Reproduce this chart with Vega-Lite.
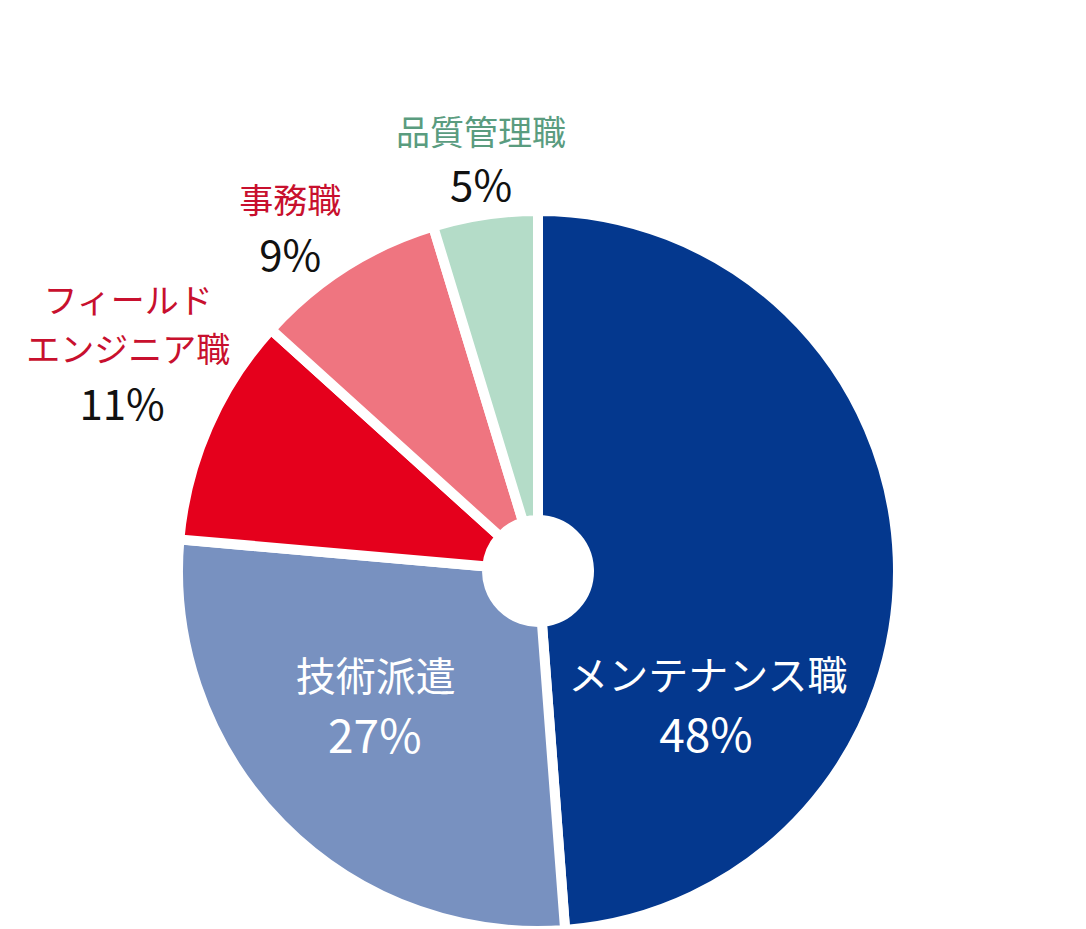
{
  "$schema": "https://vega.github.io/schema/vega-lite/v6.json",
  "width": 1076,
  "height": 716,
  "autosize": "none",
  "padding": {"left": 0, "top": 213, "right": 10, "bottom": 0},
  "background": "white",
  "config": {"view": {"stroke": null}, "font": "Noto Sans CJK JP"},
  "data": {
    "values": [
      {"job": "メンテナンス職", "name": "メンテナンス職", "share": 48.8, "label": "48%"},
      {"job": "技術派遣", "name": "技術派遣", "share": 27.6, "label": "27%"},
      {"job": "フィールドエンジニア職", "name": "フィールド\nエンジニア職", "share": 10.3, "label": "11%"},
      {"job": "事務職", "name": "事務職", "share": 8.6, "label": "9%"},
      {"job": "品質管理職", "name": "品質管理職", "share": 4.7, "label": "5%"}
    ]
  },
  "encoding": {
    "theta": {"field": "share", "type": "quantitative", "stack": true},
    "order": {"field": "share", "sort": "descending"}
  },
  "layer": [
    {
      "mark": {"type": "arc", "outerRadius": 360, "innerRadius": 51, "stroke": "white", "strokeWidth": 10},
      "encoding": {
        "color": {
          "field": "job",
          "type": "nominal",
          "legend": null,
          "scale": {
            "domain": ["メンテナンス職", "技術派遣", "フィールドエンジニア職", "事務職", "品質管理職"],
            "range": ["#04388e", "#7891c0", "#e5001c", "#ef7580", "#b4dcc8"]
          }
        }
      }
    },
    {
      "mark": {"type": "text", "radius": 387, "dy": -53, "fontSize": 34, "color": "#5a9c7f"},
      "encoding": {"text": {"condition": {"test": "datum.job === '品質管理職'", "field": "name"}, "value": ""}}
    },
    {
      "mark": {"type": "text", "radius": 387, "dy": 0, "fontSize": 42, "color": "#111111"},
      "encoding": {"text": {"condition": {"test": "datum.job === '品質管理職'", "field": "label"}, "value": ""}}
    },
    {
      "mark": {"type": "text", "radius": 371, "dx": -49, "dy": -55, "fontSize": 34, "color": "#c8102e"},
      "encoding": {"text": {"condition": {"test": "datum.job === '事務職'", "field": "name"}, "value": ""}}
    },
    {
      "mark": {"type": "text", "radius": 371, "dx": -49, "dy": 0, "fontSize": 42, "color": "#111111"},
      "encoding": {"text": {"condition": {"test": "datum.job === '事務職'", "field": "label"}, "value": ""}}
    },
    {
      "mark": {"type": "text", "radius": 445, "dx": -2, "dy": -90, "fontSize": 34, "lineBreak": "\n", "lineHeight": 49, "color": "#c8102e"},
      "encoding": {"text": {"condition": {"test": "datum.job === 'フィールドエンジニア職'", "field": "name"}, "value": ""}}
    },
    {
      "mark": {"type": "text", "radius": 445, "dx": -8, "dy": 14, "fontSize": 42, "color": "#111111"},
      "encoding": {"text": {"condition": {"test": "datum.job === 'フィールドエンジニア職'", "field": "label"}, "value": ""}}
    },
    {
      "mark": {"type": "text", "radius": 170, "dy": 113, "fontSize": 40, "color": "white"},
      "encoding": {"text": {"condition": {"test": "datum.job === 'メンテナンス職'", "field": "name"}, "value": ""}}
    },
    {
      "mark": {"type": "text", "radius": 170, "dx": -2, "dy": 173, "fontSize": 46, "color": "white"},
      "encoding": {"text": {"condition": {"test": "datum.job === 'メンテナンス職'", "field": "label"}, "value": ""}}
    },
    {
      "mark": {"type": "text", "radius": 183, "dx": -32, "dy": -21, "fontSize": 40, "color": "white"},
      "encoding": {"text": {"condition": {"test": "datum.job === '技術派遣'", "field": "name"}, "value": ""}}
    },
    {
      "mark": {"type": "text", "radius": 183, "dx": -33, "dy": 39, "fontSize": 46, "color": "white"},
      "encoding": {"text": {"condition": {"test": "datum.job === '技術派遣'", "field": "label"}, "value": ""}}
    }
  ]
}
